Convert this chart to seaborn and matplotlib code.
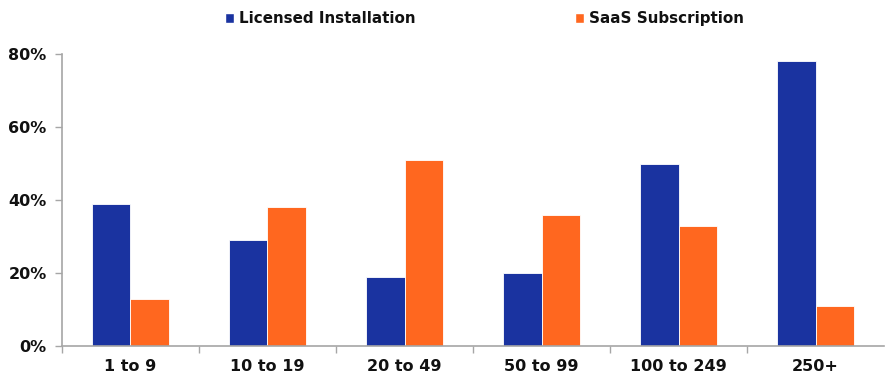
import numpy as np
import pandas as pd
import seaborn as sns
import matplotlib.pyplot as plt
from matplotlib.patches import Patch
from matplotlib.ticker import FixedLocator, PercentFormatter

categories = ["1 to 9", "10 to 19", "20 to 49", "50 to 99", "100 to 249", "250+"]
licensed = [39, 29, 19, 20, 50, 78]
saas = [13, 38, 51, 36, 33, 11]
series = ["Licensed Installation", "SaaS Subscription"]
colors = ["#1a33a0", "#ff671f"]
yticks = [0, 20, 40, 60, 80]

df = pd.DataFrame({
    "size": categories * 2,
    "share": licensed + saas,
    "model": [series[0]] * len(categories) + [series[1]] * len(categories),
})

sns.set_style("white")
plt.rcParams["font.family"] = ["DejaVu Sans"]

fig = plt.figure(figsize=(8.85, 3.75), dpi=100)
ax = fig.add_axes([0.070, 0.077, 0.929, 0.779])

sns.barplot(data=df, x="size", y="share", hue="model", order=categories,
            hue_order=series, palette=colors, saturation=1, width=0.565, gap=0,
            edgecolor="white", linewidth=0.6, legend=False, ax=ax)

ax.set_xlim(-0.5, len(categories) - 0.5)
ax.set_ylim(0, 80)
ax.set_yticks(yticks)
ax.yaxis.set_major_formatter(PercentFormatter(decimals=0))
ax.xaxis.set_minor_locator(FixedLocator(np.arange(len(categories)) - 0.5))
ax.tick_params(axis="x", which="major", bottom=True, length=0, pad=9)
ax.tick_params(axis="x", which="minor", bottom=True, length=5, color="#a6a6a6", width=1)
ax.tick_params(axis="y", left=True, length=5, color="#a6a6a6", width=1, pad=6)
for lab in ax.get_xticklabels() + ax.get_yticklabels():
    lab.set_fontweight("bold")
    lab.set_fontsize(11.5)
    lab.set_color("#111111")
ax.set_xlabel("")
ax.set_ylabel("")

for side in ["top", "right"]:
    ax.spines[side].set_visible(False)
for side in ["left", "bottom"]:
    ax.spines[side].set_color("#a6a6a6")
    ax.spines[side].set_linewidth(1.2)

handles = [Patch(facecolor=c, label=s) for c, s in zip(colors, series)]
leg = fig.legend(handles=handles, loc="center", bbox_to_anchor=(0.5475, 0.95),
                 ncol=2, frameon=False, columnspacing=10.5, handlelength=0.6,
                 handleheight=0.6, handletextpad=0.35,
                 prop={"weight": "bold", "size": 10.9})
for t in leg.get_texts():
    t.set_color("#111111")

fig.savefig("out.png", dpi=100)
